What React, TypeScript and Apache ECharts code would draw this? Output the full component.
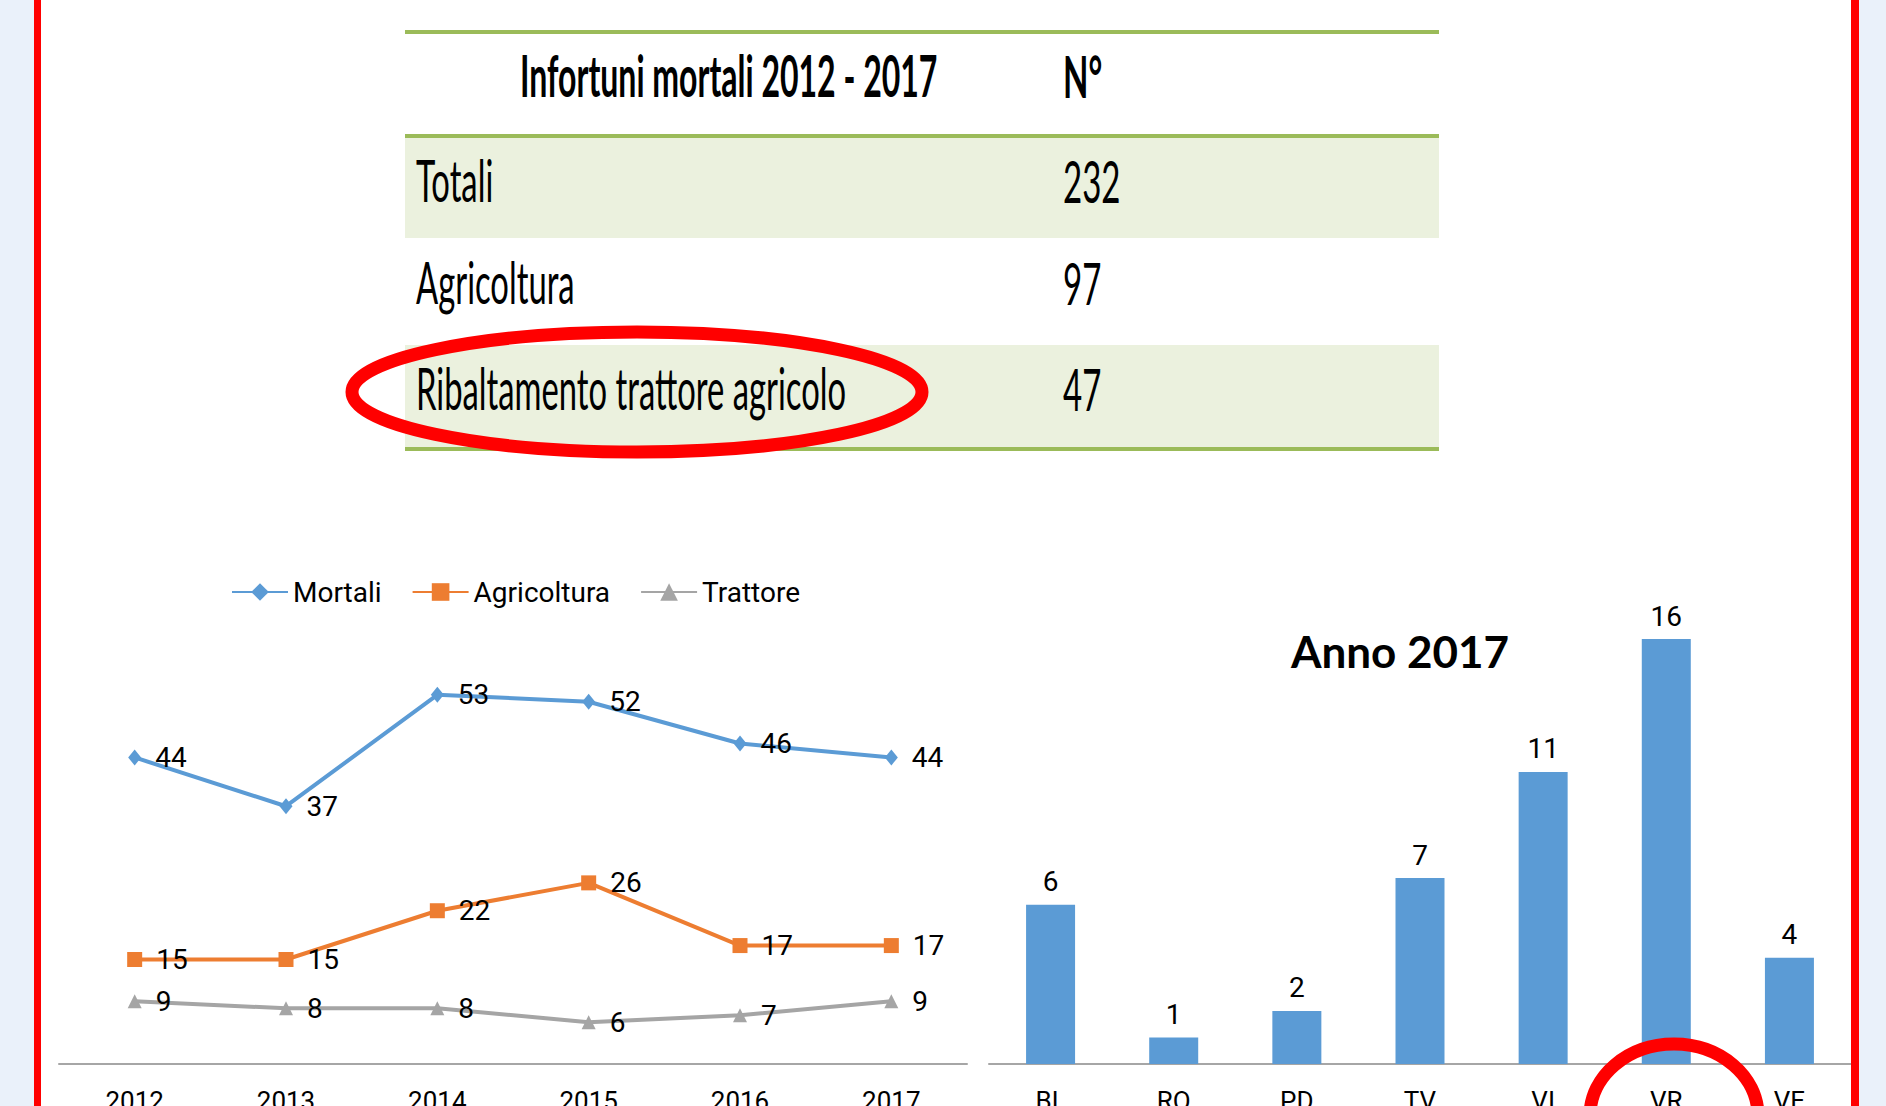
import React, { useEffect, useRef } from "react";
import * as echarts from "echarts";

// ---- data ----
const years = ["2012", "2013", "2014", "2015", "2016", "2017"];
const mortali = [44, 37, 53, 52, 46, 44];
const agricoltura = [15, 15, 22, 26, 17, 17];
const trattore = [9, 8, 8, 6, 7, 9];

const province = ["BL", "RO", "PD", "TV", "VI", "VR", "VE"];
const anno2017 = [6, 1, 2, 7, 11, 16, 4];

const tableHeader = ["Infortuni mortali 2012 - 2017", "N°"];
const tableLabels = ["Totali", "Agricoltura", "Ribaltamento trattore agricolo"];
const tableValues = [232, 97, 47];

const SANS = "Roboto, 'Noto Sans', sans-serif";
const CAL = "Lato, 'Open Sans', sans-serif";

function buildGraphic() {
  const g: any[] = [];
  // outer page background
  g.push({ type: "rect", z: -10, shape: { x: 0, y: 0, width: 34, height: 1106 }, style: { fill: "#EAF1FA" } });
  g.push({ type: "rect", z: -10, shape: { x: 1859, y: 0, width: 27, height: 1106 }, style: { fill: "#EAF1FA" } });
  g.push({ type: "rect", z: 50, shape: { x: 34, y: 0, width: 7, height: 1106 }, style: { fill: "#FF0000" } });
  g.push({ type: "rect", z: 50, shape: { x: 1851, y: 0, width: 8, height: 1106 }, style: { fill: "#FF0000" } });

  // table
  const tl = 405, tr = 1439;
  const rowTops = [136, 238, 345];
  const rowBottoms = [238, 345, 448];
  const rowCenters = [180, 282, 388];
  tableLabels.forEach((lab, i) => {
    if (i % 2 === 0) {
      g.push({ type: "rect", z: -5, shape: { x: tl, y: rowTops[i], width: tr - tl, height: rowBottoms[i] - rowTops[i] }, style: { fill: "#EBF1DE" } });
    }
    g.push({ type: "text", z: 5, x: 416, y: rowCenters[i], scaleX: 0.565, style: { text: lab, fontSize: 58, fontFamily: CAL, fill: "#000", align: "left", verticalAlign: "middle" } });
    g.push({ type: "text", z: 5, x: 1063, y: rowCenters[i], scaleX: 0.57, style: { text: String(tableValues[i]), fontSize: 58, fontFamily: CAL, fill: "#000", align: "left", verticalAlign: "middle" } });
  });
  g.push({ type: "text", z: 5, x: 520, y: 75, scaleX: 0.552, style: { text: tableHeader[0], fontSize: 58, fontWeight: "bold", fontFamily: CAL, fill: "#000", align: "left", verticalAlign: "middle" } });
  g.push({ type: "text", z: 5, x: 1063, y: 75, scaleX: 0.57, style: { text: tableHeader[1], fontSize: 58, fontWeight: "bold", fontFamily: CAL, fill: "#000", align: "left", verticalAlign: "middle" } });
  [32, 136, 449].forEach((y) => {
    g.push({ type: "line", z: 4, shape: { x1: tl, y1: y, x2: tr, y2: y }, style: { stroke: "#9BBB59", lineWidth: 4 } });
  });

  // red highlight ellipses
  g.push({ type: "ellipse", z: 60, shape: { cx: 637, cy: 392, rx: 285, ry: 60 }, style: { fill: "none", stroke: "#FF0000", lineWidth: 13 } });
  g.push({ type: "ellipse", z: 60, shape: { cx: 1674, cy: 1116, rx: 84, ry: 72 }, style: { fill: "none", stroke: "#FF0000", lineWidth: 13 } });
  return g;
}

export default function App() {
  const ref = useRef<HTMLDivElement>(null);
  useEffect(() => {
    if (!ref.current) return;
    const chart = echarts.init(ref.current, undefined, { renderer: "svg" });
    const labelStyle = { show: true, position: "right", distance: 14, color: "#000", fontSize: 28, fontFamily: SANS };
    const option: any = {
      animation: false,
      backgroundColor: "#FFFFFF",
      title: {
        text: "Anno 2017",
        left: 1395,
        top: 624,
        textAlign: "center",
        textStyle: { fontSize: 44, fontWeight: "bold", fontFamily: CAL, color: "#000" },
      },
      legend: {
        left: 226,
        top: 573,
        itemWidth: 56,
        itemHeight: 22,
        itemGap: 30,
        textStyle: { fontSize: 28, color: "#000", fontFamily: SANS },
        data: ["Mortali", "Agricoltura", "Trattore"],
      },
      grid: [
        { left: 59, width: 908, top: 646, height: 418, outerBoundsMode: "none", containLabel: false },
        { left: 989, width: 862, top: 586, height: 478, outerBoundsMode: "none", containLabel: false },
      ],
      xAxis: [
        {
          gridIndex: 0, type: "category", data: years,
          axisLine: { lineStyle: { color: "#A6A6A6", width: 2 } },
          axisTick: { show: false },
          axisLabel: { margin: 24, fontSize: 26, color: "#000", fontFamily: SANS },
        },
        {
          gridIndex: 1, type: "category", data: province,
          axisLine: { lineStyle: { color: "#A6A6A6", width: 2 } },
          axisTick: { show: false },
          axisLabel: { margin: 24, fontSize: 26, color: "#000", fontFamily: SANS },
        },
      ],
      yAxis: [
        { gridIndex: 0, type: "value", min: 0, max: 60, show: false },
        { gridIndex: 1, type: "value", min: 0, max: 18, show: false },
      ],
      series: [
        {
          type: "line", name: "Mortali", data: mortali, xAxisIndex: 0, yAxisIndex: 0,
          symbol: "diamond", symbolSize: [13, 16],
          lineStyle: { width: 4, color: "#5B9BD5" }, itemStyle: { color: "#5B9BD5" },
          label: labelStyle,
        },
        {
          type: "line", name: "Agricoltura", data: agricoltura, xAxisIndex: 0, yAxisIndex: 0,
          symbol: "rect", symbolSize: 15,
          lineStyle: { width: 4, color: "#ED7D31" }, itemStyle: { color: "#ED7D31" },
          label: labelStyle,
        },
        {
          type: "line", name: "Trattore", data: trattore, xAxisIndex: 0, yAxisIndex: 0,
          symbol: "triangle", symbolSize: 14,
          lineStyle: { width: 4, color: "#A5A5A5" }, itemStyle: { color: "#A5A5A5" },
          label: labelStyle,
        },
        {
          type: "bar", name: "Anno 2017", data: anno2017, xAxisIndex: 1, yAxisIndex: 1,
          barWidth: 49, itemStyle: { color: "#5B9BD5" },
          label: { show: true, position: "top", distance: 9, color: "#000", fontSize: 28, fontFamily: SANS },
        },
      ],
      graphic: buildGraphic(),
    };
    chart.setOption(option);
    return () => chart.dispose();
  }, []);
  return <div ref={ref} style={{ position: "fixed", left: 0, top: 0, width: 1886, height: 1106 }} />;
}
